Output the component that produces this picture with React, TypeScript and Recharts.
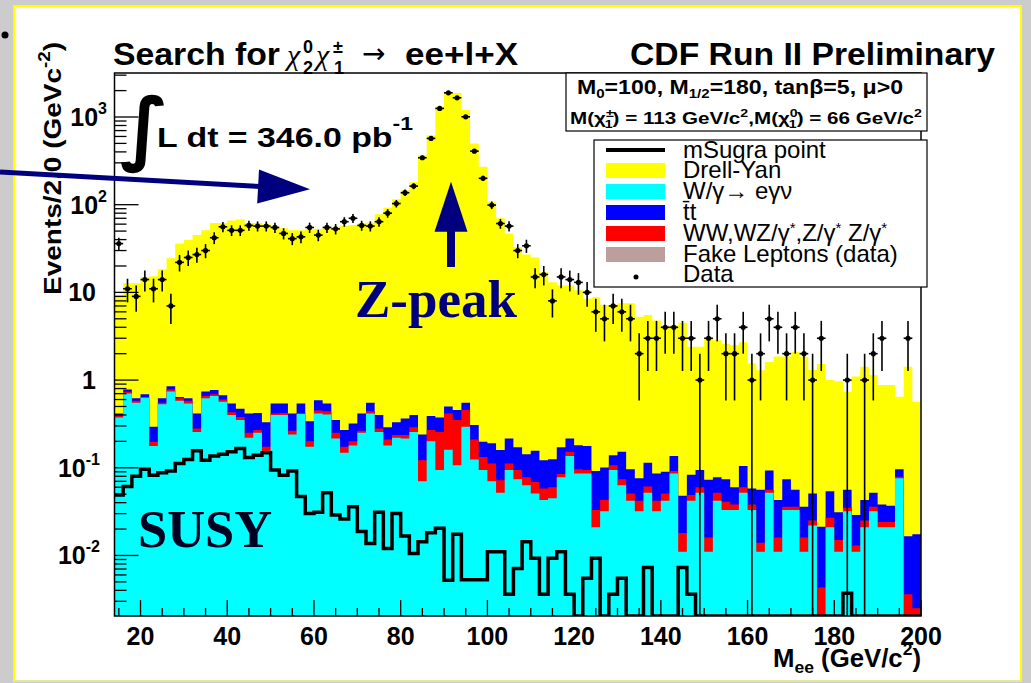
import { ComposedChart, Area, Line, Scatter, XAxis, YAxis, ErrorBar } from "recharts"

const CHART_W = 1031
const CHART_H = 683
const PLOT_L = 114.5
const PLOT_R = 921
const PLOT_T = 73
const PLOT_B = 616
const Y_MIN = 0.00204
const Y_MAX = 3175
const FLOOR = 1e-4
const NAVY = "#00007f"
const SANS = "'Liberation Sans', Arial, sans-serif"
const SERIF = "'Liberation Serif', 'Times New Roman', serif"

// lower edges of the 2 GeV/c^2 mass bins
const BIN_LOW = [
  14, 16, 18, 20, 22, 24, 26, 28, 30, 32, 34, 36, 38, 40, 42, 44, 46, 48, 50, 52,
  54, 56, 58, 60, 62, 64, 66, 68, 70, 72, 74, 76, 78, 80, 82, 84, 86, 88, 90, 92,
  94, 96, 98, 100, 102, 104, 106, 108, 110, 112, 114, 116, 118, 120, 122, 124, 126, 128, 130, 132,
  134, 136, 138, 140, 142, 144, 146, 148, 150, 152, 154, 156, 158, 160, 162, 164, 166, 168, 170, 172,
  174, 176, 178, 180, 182, 184, 186, 188, 190, 192, 194, 196, 198,
]

const DRELL_YAN = [
  8.9, 11.9, 12.1, 14.3, 15.0, 17.7, 23.6, 35.4, 38.9, 44.6,
  50.3, 61.2, 61.3, 65.5, 67.5, 61.6, 61.6, 59.7, 55.5, 53.5,
  50.6, 50.5, 51.7, 52.4, 53.5, 55.7, 56.7, 58.2, 60.6, 61.5,
  77.6, 91.7, 114.7, 144.6, 179.6, 365.8, 619.6, 1305.6, 1929.5, 1879.5,
  1199.5, 499.7, 269.8, 107.8, 69.8, 46.8, 32.8, 26.9, 24.8, 16.9,
  12.9, 11.8, 11.8, 10.4, 8.3, 8.7, 7.1, 7.1, 7.35, 7.4,
  5.2, 5.4, 4.7, 3.96, 4.06, 4.45, 2.32, 2.31, 2.93, 2.77,
  2.53, 2.44, 2.6, 1.49, 1.24, 1.51, 1.81, 1.78, 2.04, 1.81,
  1.25, 1.5, 0.95, 0.94, 0.68, 1.07, 1.38, 1.09, 0.84, 0.84,
  0.55, 1.4, 0.55,
]

const W_GAMMA = [
  0.375, 0.705, 0.55, 0.63, 0.177, 0.53, 0.74, 0.58, 0.54, 0.256,
  0.62, 0.66, 0.565, 0.4, 0.35, 0.22, 0.25, 0.15, 0.4, 0.4,
  0.24, 0.41, 0.174, 0.417, 0.405, 0.216, 0.148, 0.18, 0.25, 0.417,
  0.256, 0.18, 0.22, 0.216, 0.256, 0.07, 0.2, 0.094, 0.16, 0.107,
  0.293, 0.124, 0.094, 0.07, 0.052, 0.094, 0.074, 0.063, 0.051, 0.043,
  0.045, 0.078, 0.136, 0.086, 0.086, 0.021, 0.032, 0.094, 0.063, 0.042,
  0.032, 0.052, 0.032, 0.042, 0.086, 0.011, 0.042, 0.052, 0.011, 0.042,
  0.033, 0.033, 0.052, 0.033, 0.011, 0.052, 0.011, 0.033, 0.033, 0.011,
  0.022, 0, 0.021, 0.011, 0.032, 0.011, 0.021, 0.032, 0.021, 0.021,
  0.076, 0, 0,
]

const DIBOSON = [
  0.025, 0.031, 0.03, 0.01, 0.021, 0.02, 0.04, 0.04, 0.04, 0.024,
  0.04, 0.03, 0.035, 0.03, 0.03, 0.03, 0.02, 0.024, 0.017, 0.02,
  0.024, 0.01, 0.026, 0.033, 0.035, 0.034, 0.026, 0.02, 0.014, 0.023,
  0.024, 0.03, 0.016, 0.02, 0.034, 0.052, 0.07, 0.162, 0.257, 0.243,
  0.162, 0.086, 0.039, 0.042, 0.02, 0.018, 0.02, 0.015, 0.018, 0.015,
  0.015, 0.007, 0.016, 0.01, 0.008, 0.012, 0.011, 0.013, 0.011, 0.009,
  0.01, 0.009, 0.01, 0.009, 0.006, 0.007, 0.007, 0.008, 0.005, 0.01,
  0.008, 0.005, 0.008, 0.005, 0.003, 0.004, 0.005, 0.003, 0.003, 0.005,
  0.003, 0.0043, 0.006, 0.004, 0.003, 0.002, 0.004, 0.004, 0.003, 0.003,
  0.003, 0.0036, 0.0025,
]

const TTBAR = [
  0.017, 0.044, 0.04, 0.05, 0.095, 0.07, 0.07, 0.02, 0.04, 0.137,
  0.08, 0.08, 0.07, 0.11, 0.09, 0.167, 0.15, 0.156, 0.123, 0.12,
  0.153, 0.12, 0.14, 0.14, 0.1, 0.1, 0.096, 0.12, 0.153, 0.11,
  0.12, 0.08, 0.094, 0.129, 0.11, 0.118, 0.12, 0.119, 0.083, 0.105,
  0.095, 0.097, 0.065, 0.078, 0.087, 0.104, 0.077, 0.065, 0.087, 0.064,
  0.065, 0.086, 0.064, 0.085, 0.083, 0.059, 0.058, 0.032, 0.078, 0.045,
  0.034, 0.053, 0.044, 0.039, 0.044, 0.03, 0.034, 0.034, 0.057, 0.026,
  0.033, 0.022, 0.045, 0.02, 0.042, 0.037, 0.027, 0.038, 0.02, 0.02,
  0.026, 0.017, 0.027, 0.016, 0.021, 0.016, 0.018, 0.016, 0.014, 0.013,
  0.017, 0.013, 0.015,
]

const SUSY = [
  0.049, 0.061, 0.08, 0.096, 0.082, 0.088, 0.092, 0.112, 0.124, 0.156,
  0.122, 0.136, 0.143, 0.152, 0.166, 0.131, 0.139, 0.148, 0.094, 0.082,
  0.092, 0.047, 0.03, 0.031, 0.052, 0.029, 0.026, 0.036, 0.0187, 0.0137,
  0.031, 0.012, 0.03, 0.0167, 0.0105, 0.0143, 0.0181, 0.0204, 0.0052, 0.0175,
  0.0053, 0.0053, 0.0053, 0.011, 0.011, 0.0036, 0.0071, 0.0143, 0.0093, 0.0036,
  0.0093, 0.011, 0.0036, 0, 0.0055, 0.0093, 0, 0.0036, 0.0055, 0,
  0, 0.0073, 0, 0, 0, 0.0073, 0.0036, 0, 0, 0,
  0, 0, 0, 0, 0, 0, 0, 0, 0, 0,
  0, 0, 0, 0, 0.0037, 0, 0, 0, 0, 0,
  0, 0, 0,
]

const DATA = [
  36, 11, 9, 14, 11, 14, 7, 22, 25, 27,
  30, 42, 56, 51, 51, 58, 57, 57, 55, 47,
  41, 43, 55, 45, 55, 53, 64, 70, 58, 57,
  64, 80, 103, 137, 163, 343, 570, 1253, 1888, 1656,
  1005, 408, 200, 99, 61, 57, 30, 34, 15, 16,
  8, 15, 14, 13, 10, 6, 5, 7, 6, 5,
  2, 3, 3, 4, 4, 3, 3, 1, 3, 5,
  2, 2, 4, 1, 2, 5, 4, 2, 4, 2,
  1, 3, 0, 0, 1, 0, 1, 2, 3, 0,
  0, 3, 0,
]

const X_TICKS = [
  15, 20, 25, 30, 35, 40, 45, 50, 55, 60, 65, 70, 75, 80, 85, 90, 95, 100,
  105, 110, 115, 120, 125, 130, 135, 140, 145, 150, 155, 160, 165, 170, 175, 180,
  185, 190, 195, 200,
]
const X_LABELS = [20, 40, 60, 80, 100, 120, 140, 160, 180, 200]

const Y_DECADES = [0.001, 0.01, 0.1, 1, 10, 100, 1000]
const Y_LABEL_VALUES = [0.01, 0.1, 1, 10, 100, 1000]
const Y_LABEL_BASE = ["10", "10", "1", "10", "10", "10"]
const Y_LABEL_EXP = ["-2", "-1", "", "", "2", "3"]

const Y_TICKS = Y_DECADES.flatMap(d => [1, 2, 3, 4, 5, 6, 7, 8, 9].map(m => +(d * m).toPrecision(3)))
  .filter(v => v >= Y_MIN && v <= Y_MAX)

const pos = (v: number) => (v > 0 ? v : FLOOR)

const ROWS = BIN_LOW.map((x, i) => {
  const cya = W_GAMMA[i]
  const red = cya + DIBOSON[i]
  const blu = red + TTBAR[i]
  const yel = blu + DRELL_YAN[i]
  return { x, yel: pos(yel), blu: pos(blu), red: pos(red), cya: pos(cya), susy: SUSY[i] > 0 ? SUSY[i] : Y_MIN }
})
ROWS.push({ ...ROWS[ROWS.length - 1], x: 200 })

const POINTS = BIN_LOW.map((x, i) => {
  const n = DATA[i]
  const e = Math.sqrt(n)
  return { x: x + 1, n, err: [Math.min(e, n - Y_MIN), e], xerr: 1 }
}).filter(p => p.n > 0)

function XTick(props: any) {
  const { x, payload } = props
  const v = payload.value
  const major = X_LABELS.includes(v)
  return (
    <g>
      <line x1={x} x2={x} y1={PLOT_B} y2={PLOT_B - (major ? 16 : 8)} stroke="#000" strokeWidth={1.3} />
      {major && (
        <text x={x} y={645} textAnchor="middle" fontFamily={SANS} fontWeight="bold" fontSize={25} fill="#000">
          {v}
        </text>
      )}
    </g>
  )
}

function YTick(props: any) {
  const { y, payload } = props
  const v = payload.value
  const idx = Y_LABEL_VALUES.findIndex(l => Math.abs(l - v) / l < 1e-6)
  const lg = Math.log10(v)
  const major = Math.abs(lg - Math.round(lg)) < 1e-6
  const exp = idx >= 0 ? Y_LABEL_EXP[idx] : ""
  const anchorX = exp === "" ? 96 : exp.startsWith("-") ? 100 : 107
  return (
    <g>
      <line x1={PLOT_L} x2={PLOT_L + (major ? 24 : 12)} y1={y} y2={y} stroke="#000" strokeWidth={1.3} />
      {idx >= 0 && (
        <text x={anchorX} y={y + 9} textAnchor="end" fontFamily={SANS} fontWeight="bold" fontSize={25} fill="#000">
          {Y_LABEL_BASE[idx]}
          {exp && <tspan dy={-12} fontSize={16}>{exp}</tspan>}
        </text>
      )}
    </g>
  )
}

const Dot = (p: any) => <circle cx={p.cx} cy={p.cy} r={2.6} fill="#000" />

function Overlay() {
  const bold = { fontFamily: SANS, fontWeight: "bold" as const, fill: "#000" }
  return (
    <svg width={CHART_W} height={CHART_H} style={{ position: "absolute", left: 0, top: 0, pointerEvents: "none" }}>
      <rect x={PLOT_L} y={PLOT_T} width={PLOT_R - PLOT_L} height={PLOT_B - PLOT_T} fill="none" stroke="#000" strokeWidth={1.5} />
      <circle cx={5} cy={35} r={3.5} fill="#000" />

      {/* title */}
      <text x={113} y={65} fontSize={32} textLength={167} lengthAdjust="spacingAndGlyphs" {...bold}>Search for</text>
      <text x={287} y={65} fontSize={30} fontFamily={SERIF} fontStyle="italic">χ</text>
      <text x={303} y={53} fontSize={18} {...bold}>0</text>
      <text x={303} y={74} fontSize={18} {...bold}>2</text>
      <text x={316} y={65} fontSize={30} fontFamily={SERIF} fontStyle="italic">χ</text>
      <text x={333} y={53} fontSize={18} {...bold}>±</text>
      <text x={334} y={74} fontSize={18} {...bold}>1</text>
      <text x={362} y={63} fontSize={28} fontFamily="'DejaVu Sans', sans-serif">→</text>
      <text x={405} y={65} fontSize={32} textLength={113} lengthAdjust="spacingAndGlyphs" {...bold}>ee+l+X</text>
      <text x={630} y={65} fontSize={32} textLength={365} lengthAdjust="spacingAndGlyphs" {...bold}>CDF Run II Preliminary</text>

      {/* parameter box */}
      <rect x={566} y={PLOT_T} width={361} height={58} fill="#fff" stroke="#000" strokeWidth={1.2} />
      <text x={577} y={94} fontSize={20} textLength={326} lengthAdjust="spacingAndGlyphs" {...bold}>
        M<tspan fontSize={13} dy={4}>0</tspan>
        <tspan dy={-4}>=100, M</tspan>
        <tspan fontSize={13} dy={4}>1/2</tspan>
        <tspan dy={-4}>=180, tanβ=5, μ&gt;0</tspan>
      </text>
      <text x={570} y={124} fontSize={16} textLength={352} lengthAdjust="spacingAndGlyphs" {...bold}>
        M(χ<tspan fontSize={11} dy={-7}>±</tspan>
        <tspan fontSize={11} dx={-7} dy={11}>1</tspan>
        <tspan dy={-4}>) = 113 GeV/c</tspan>
        <tspan fontSize={11} dy={-7}>2</tspan>
        <tspan dy={7}>,M(χ</tspan>
        <tspan fontSize={11} dy={-7}>0</tspan>
        <tspan fontSize={11} dx={-7} dy={11}>1</tspan>
        <tspan dy={-4}>) = 66 GeV/c</tspan>
        <tspan fontSize={11} dy={-7}>2</tspan>
      </text>

      {/* legend */}
      <rect x={594} y={140} width={333} height={147} fill="#fff" stroke="#000" strokeWidth={1.2} />
      <line x1={606} x2={665} y1={150} y2={150} stroke="#000" strokeWidth={4} />
      <rect x={606} y={163} width={59} height={15} fill="#ffff00" />
      <rect x={606} y={184} width={59} height={15} fill="#00ffff" />
      <rect x={606} y={205} width={59} height={15} fill="#0000ff" />
      <rect x={606} y={226} width={59} height={15} fill="#ff0000" />
      <rect x={606} y={247} width={59} height={15} fill="#bc9f9b" />
      <circle cx={636} cy={277} r={2.5} fill="#000" />
      <g fontFamily={SANS} fontSize={24} fill="#000">
        <text x={683} y={158}>mSugra point</text>
        <text x={683} y={178}>Drell-Yan</text>
        <text x={683} y={199}>W/γ→ eγν</text>
        <text x={683} y={220}>t̄t</text>
        <text x={683} y={241}>
          WW,WZ/γ<tspan dy={-8} fontSize={15}>*</tspan>
          <tspan dy={8}>,Z/γ</tspan>
          <tspan dy={-8} fontSize={15}>*</tspan>
          <tspan dy={8}> Z/γ</tspan>
          <tspan dy={-8} fontSize={15}>*</tspan>
        </text>
        <text x={683} y={262}>Fake Leptons (data)</text>
        <text x={683} y={282}>Data</text>
      </g>

      {/* axis titles */}
      <text x={PLOT_R} y={667} textAnchor="end" fontSize={25} textLength={148} lengthAdjust="spacingAndGlyphs" {...bold}>
        M<tspan fontSize={17} dy={6}>ee</tspan>
        <tspan dy={-6}> (GeV/c</tspan>
        <tspan fontSize={17} dy={-12}>2</tspan>
        <tspan dy={12}>)</tspan>
      </text>
      <text transform="translate(61,42) rotate(-90)" x={0} y={0} textAnchor="end" fontSize={24} textLength={253} lengthAdjust="spacingAndGlyphs" {...bold}>
        Events/2.0 (GeVc<tspan fontSize={16} dy={-11}>-2</tspan>
        <tspan dy={11}>)</tspan>
      </text>

      {/* luminosity */}
      <text x={120} y={155} fontSize={80} fontWeight="bold" fontFamily="'DejaVu Sans', sans-serif" fill="#000">∫</text>
      <text x={157} y={147} fontSize={28} textLength={256} lengthAdjust="spacingAndGlyphs" {...bold}>
        L dt = 346.0 pb<tspan fontSize={19} dy={-17}>-1</tspan>
      </text>

      {/* annotations */}
      <line x1={0} y1={172} x2={262} y2={186.6} stroke={NAVY} strokeWidth={5} />
      <polygon points="310,189.3 259,169.4 257.2,203.4" fill={NAVY} />
      <polygon points="451,181.7 434.5,231.7 467.5,231.7" fill={NAVY} />
      <rect x={447} y={230} width={8} height={37} fill={NAVY} />
      <text x={355} y={317} fontSize={53} fontFamily={SERIF} fontWeight="bold" fill={NAVY} textLength={162} lengthAdjust="spacingAndGlyphs">Z-peak</text>
      <text x={138} y={547} fontSize={53} fontFamily={SERIF} fontWeight="bold" fill="#000020" textLength={134} lengthAdjust="spacingAndGlyphs">SUSY</text>
    </svg>
  )
}

export default function App() {
  return (
    <div style={{ position: "absolute", left: 0, top: 0, width: CHART_W, height: CHART_H, background: "#cccccc", overflow: "hidden" }}>
      <div style={{ position: "absolute", left: 13, top: 5, width: 1009, height: 677, background: "#fff", border: "2px solid #ffff00", borderBottomColor: "#e6e6a0", boxSizing: "border-box" }} />
      <div style={{ position: "absolute", left: 0, top: 0 }}>
        <ComposedChart
          width={CHART_W}
          height={CHART_H}
          data={ROWS}
          margin={{ top: PLOT_T, right: CHART_W - PLOT_R, bottom: CHART_H - PLOT_B - 40, left: PLOT_L - 60 }}
        >
          <Area type="stepAfter" dataKey="yel" fill="#ffff00" fillOpacity={1} stroke="none" baseValue={Y_MIN} dot={false} activeDot={false} isAnimationActive={false} />
          <Area type="stepAfter" dataKey="blu" fill="#0000ff" fillOpacity={1} stroke="none" baseValue={Y_MIN} dot={false} activeDot={false} isAnimationActive={false} />
          <Area type="stepAfter" dataKey="red" fill="#ff0000" fillOpacity={1} stroke="none" baseValue={Y_MIN} dot={false} activeDot={false} isAnimationActive={false} />
          <Area type="stepAfter" dataKey="cya" fill="#00ffff" fillOpacity={1} stroke="none" baseValue={Y_MIN} dot={false} activeDot={false} isAnimationActive={false} />
          <Line type="stepAfter" dataKey="susy" stroke="#000" strokeWidth={3.5} dot={false} activeDot={false} isAnimationActive={false} />
          <Scatter data={POINTS} dataKey="n" shape={Dot} isAnimationActive={false}>
            <ErrorBar dataKey="err" direction="y" width={0} stroke="#000" strokeWidth={1.6} isAnimationActive={false} />
            <ErrorBar dataKey="xerr" direction="x" width={0} stroke="#000" strokeWidth={1.6} isAnimationActive={false} />
          </Scatter>
          <XAxis type="number" dataKey="x" domain={[14, 200]} allowDataOverflow ticks={X_TICKS} interval={0} tick={<XTick />} tickLine={false} axisLine={false} height={40} />
          <YAxis type="number" scale="log" domain={[Y_MIN, Y_MAX]} allowDataOverflow ticks={Y_TICKS} interval={0} tick={<YTick />} tickLine={false} axisLine={false} width={60} />
        </ComposedChart>
      </div>
      <Overlay />
    </div>
  )
}
